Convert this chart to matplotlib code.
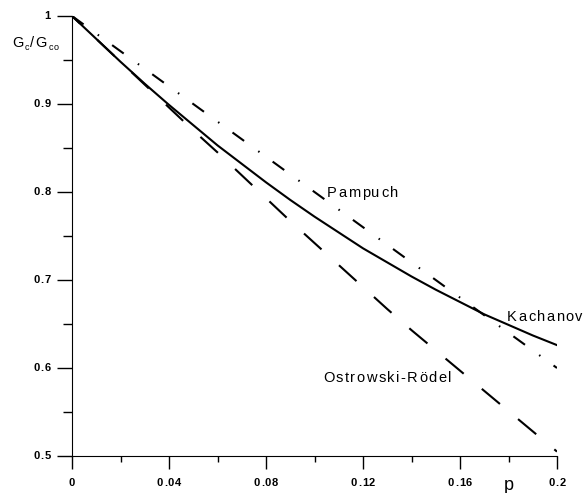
"""
Gc/Gco versus porosity p: Kachanov, Pampuch, Ostrowski-Rodel
"""

import matplotlib
matplotlib.use('Agg')
import matplotlib.pyplot as plt
from matplotlib.ticker import MultipleLocator, NullFormatter
from matplotlib.transforms import offset_copy, blended_transform_factory
from matplotlib.font_manager import FontProperties, findfont, get_font

plt.rcParams['font.family'] = ['Liberation Sans', 'DejaVu Sans']
plt.rcParams['lines.scale_dashes'] = False

# porosity grid
p = [0.00, 0.01, 0.02, 0.03, 0.04, 0.05, 0.06, 0.07, 0.08, 0.09, 0.10,
     0.11, 0.12, 0.13, 0.14, 0.15, 0.16, 0.17, 0.18, 0.19, 0.20]

# values
kachanov = [1.000, 0.974, 0.948, 0.923, 0.899, 0.876, 0.853, 0.832, 0.811,
            0.791, 0.772, 0.754, 0.736, 0.720, 0.704, 0.689, 0.675, 0.661,
            0.649, 0.637, 0.626]
pampuch = [1.00, 0.98, 0.96, 0.94, 0.92, 0.90, 0.88, 0.86, 0.84, 0.82, 0.80,
           0.78, 0.76, 0.74, 0.72, 0.70, 0.68, 0.66, 0.64, 0.62, 0.60]
ostrowski = [1.000, 0.974, 0.948, 0.922, 0.896, 0.870, 0.845, 0.819, 0.793,
             0.767, 0.742, 0.717, 0.692, 0.667, 0.643, 0.620, 0.597, 0.574,
             0.551, 0.528, 0.505]

xticks = [0, 0.04, 0.08, 0.12, 0.16, 0.2]
xtick_labels = ["0", "0.04", "0.08", "0.12", "0.16", "0.2"]
yticks = [0.5, 0.6, 0.7, 0.8, 0.9, 1.0]
ytick_labels = ["0.5", "0.6", "0.7", "0.8", "0.9", "1"]

fig = plt.figure(figsize=(5.87, 4.93), dpi=100)
ax = fig.add_axes([72 / 587, 1 - 456 / 493, 485 / 587, 440 / 493])


def advance(ch, size, weight):
    # horizontal advance of one glyph, in points
    fp = FontProperties(family='Liberation Sans', weight=weight)
    font = get_font(findfont(fp))
    font.set_size(size, 72)
    return font.load_char(ord(ch)).linearHoriAdvance / 65536


def spaced_text(x, y, pieces, transform, track=1.0, ha='left',
                va='baseline', dx=0):
    # pieces: list of (string, size, weight, dy in points)
    widths = []
    for s, size, weight, dy in pieces:
        for ch in s:
            widths.append(advance(ch, size, weight) + track)
    total = sum(widths) - track
    off = dx + {'left': 0, 'center': -total / 2, 'right': -total}[ha]
    i = 0
    for s, size, weight, dy in pieces:
        for ch in s:
            tr = offset_copy(transform, fig=fig, x=off, y=dy, units='points')
            fig.text(x, y, ch, transform=tr, fontsize=size, fontweight=weight,
                     ha='left', va=va, clip_on=False)
            off += widths[i]
            i += 1


ax.plot(p, kachanov, color='black', linewidth=1.5)
ax.plot(p, pampuch, color='black', linewidth=1.5,
        linestyle=(0, (10.3, 12.6, 1.1, 11.7)), dash_capstyle='butt')
ax.plot(p, ostrowski, color='black', linewidth=1.5,
        linestyle=(9, (17, 17)), dash_capstyle='butt')

ax.set_xlim(0, 0.2)
ax.set_ylim(0.5, 1.0)

for side in ['top', 'right']:
    ax.spines[side].set_visible(False)

ax.set_xticks(xticks)
ax.set_yticks(yticks)
ax.xaxis.set_major_formatter(NullFormatter())
ax.yaxis.set_major_formatter(NullFormatter())
ax.xaxis.set_minor_locator(MultipleLocator(0.02))
ax.yaxis.set_minor_locator(MultipleLocator(0.05))

ax.tick_params(axis='x', which='major', direction='out', length=9, width=1)
ax.tick_params(axis='x', which='minor', direction='out', length=4, width=1)
ax.tick_params(axis='y', which='major', direction='out', length=11, width=1)
ax.tick_params(axis='y', which='minor', direction='out', length=6.5, width=1)

# tick labels, slightly letter-spaced like the original
xtr = blended_transform_factory(ax.transData, ax.transAxes)
for xv, lab in zip(xticks, xtick_labels):
    spaced_text(xv, 0, [(lab, 8, 'bold', -19.5)], xtr, track=0.6,
                ha='center', va='center')
ytr = blended_transform_factory(ax.transAxes, ax.transData)
for yv, lab in zip(yticks, ytick_labels):
    spaced_text(0, yv, [(lab, 8, 'bold', 0)], ytr, track=0.6,
                ha='right', va='center', dx=-15.5)

ax_tr = ax.transData
spaced_text(0.1052, 0.80, [("Pampuch", 10.5, 'normal', -3.8)], ax_tr, track=1.1)
spaced_text(0.1794, 0.659, [("Kachanov", 10.5, 'normal', -3.8)], ax_tr, track=1.1)
spaced_text(0.1035, 0.590, [("Ostrowski-Rödel", 10.5, 'normal', -3.8)], ax_tr,
            track=1.1)

ftr = fig.transFigure
spaced_text(12 / 587, 1 - 47 / 493,
            [("G", 10.5, 'normal', 0), ("c", 6.5, 'normal', -2.5),
             ("/", 10.5, 'normal', 0), ("G", 10.5, 'normal', 0),
             ("co", 6.5, 'normal', -2.5)], ftr, track=0.9)
fig.text(509 / 587, 1 - 486 / 493, "p", fontsize=13, ha='center', va='center')

fig.savefig("out.png", dpi=100)
plt.close(fig)
